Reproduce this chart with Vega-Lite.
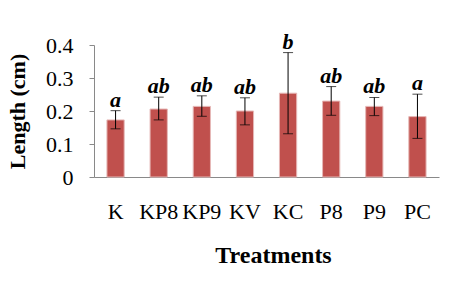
{
  "$schema": "https://vega.github.io/schema/vega-lite/v6.json",
  "width": 345,
  "height": 132,
  "autosize": "none",
  "padding": {"left": 94, "top": 45, "right": 15, "bottom": 105},
  "background": "white",
  "config": {
    "view": {"stroke": null},
    "font": "Liberation Serif",
    "axis": {"labelFont": "Liberation Serif", "titleFont": "Liberation Serif", "labelColor": "black", "titleColor": "black", "domainColor": "#898989", "tickColor": "#898989", "grid": false, "labelOverlap": false},
    "axisY": {"labelOverlap": false, "labelFontSize": 22, "labelPadding": 16, "tickSize": 5, "labelBound": false}
  },
  "data": {
    "values": [
      {"treatment": "K", "mean": 0.173, "lo": 0.146, "hi": 0.201, "group": "a"},
      {"treatment": "KP8", "mean": 0.206, "lo": 0.173, "hi": 0.242, "group": "ab"},
      {"treatment": "KP9", "mean": 0.214, "lo": 0.184, "hi": 0.246, "group": "ab"},
      {"treatment": "KV", "mean": 0.200, "lo": 0.158, "hi": 0.240, "group": "ab"},
      {"treatment": "KC", "mean": 0.254, "lo": 0.131, "hi": 0.377, "group": "b"},
      {"treatment": "P8", "mean": 0.230, "lo": 0.187, "hi": 0.274, "group": "ab"},
      {"treatment": "P9", "mean": 0.214, "lo": 0.186, "hi": 0.241, "group": "ab"},
      {"treatment": "PC", "mean": 0.183, "lo": 0.117, "hi": 0.251, "group": "a"}
    ]
  },
  "encoding": {
    "x": {
      "field": "treatment",
      "type": "nominal",
      "sort": null,
      "scale": {"paddingInner": 0.6, "paddingOuter": 0.3},
      "axis": {
        "title": "Treatments",
        "titleFontSize": 24,
        "titleFontWeight": "bold",
        "titleX": 179,
        "titleY": 85,
        "titleBaseline": "alphabetic",
        "labelAngle": 0,
        "labelFontSize": 22,
        "labelPadding": 24,
        "ticks": false,
        "domainWidth": 1
      }
    }
  },
  "layer": [
    {
      "mark": {"type": "bar", "color": "#C0504D", "stroke": "#E6B8B7", "strokeWidth": 1},
      "encoding": {
        "y": {
          "field": "mean",
          "type": "quantitative",
          "scale": {"domain": [0, 0.4], "nice": false},
          "axis": {"title": "Length (cm)", "titleFontSize": 22, "titleFontWeight": "bold", "titleX": -65, "titleBaseline": "bottom", "values": [0, 0.1, 0.2, 0.3, 0.4], "labelExpr": "datum.value == 0 ? '0' : format(datum.value, '.1f')"}
        }
      }
    },
    {
      "mark": {"type": "rule", "color": "black", "strokeWidth": 1},
      "encoding": {
        "y": {"field": "lo", "type": "quantitative", "axis": {"title": "Length (cm)", "titleFontSize": 22, "titleFontWeight": "bold", "titleX": -65, "titleBaseline": "bottom", "values": [0, 0.1, 0.2, 0.3, 0.4], "labelExpr": "datum.value == 0 ? '0' : format(datum.value, '.1f')"}},
        "y2": {"field": "hi"}
      }
    },
    {
      "mark": {"type": "tick", "color": "black", "size": 10, "thickness": 1},
      "encoding": {"y": {"field": "lo", "type": "quantitative", "axis": {"title": "Length (cm)", "titleFontSize": 22, "titleFontWeight": "bold", "titleX": -65, "titleBaseline": "bottom", "values": [0, 0.1, 0.2, 0.3, 0.4], "labelExpr": "datum.value == 0 ? '0' : format(datum.value, '.1f')"}}}
    },
    {
      "mark": {"type": "tick", "color": "black", "size": 10, "thickness": 1},
      "encoding": {"y": {"field": "hi", "type": "quantitative", "axis": {"title": "Length (cm)", "titleFontSize": 22, "titleFontWeight": "bold", "titleX": -65, "titleBaseline": "bottom", "values": [0, 0.1, 0.2, 0.3, 0.4], "labelExpr": "datum.value == 0 ? '0' : format(datum.value, '.1f')"}}}
    },
    {
      "mark": {"type": "text", "font": "Liberation Serif", "fontSize": 22, "fontWeight": "bold", "fontStyle": "italic", "baseline": "alphabetic", "dy": -4, "color": "black"},
      "encoding": {
        "y": {"field": "hi", "type": "quantitative", "axis": {"title": "Length (cm)", "titleFontSize": 22, "titleFontWeight": "bold", "titleX": -65, "titleBaseline": "bottom", "values": [0, 0.1, 0.2, 0.3, 0.4], "labelExpr": "datum.value == 0 ? '0' : format(datum.value, '.1f')"}},
        "text": {"field": "group"}
      }
    }
  ]
}
